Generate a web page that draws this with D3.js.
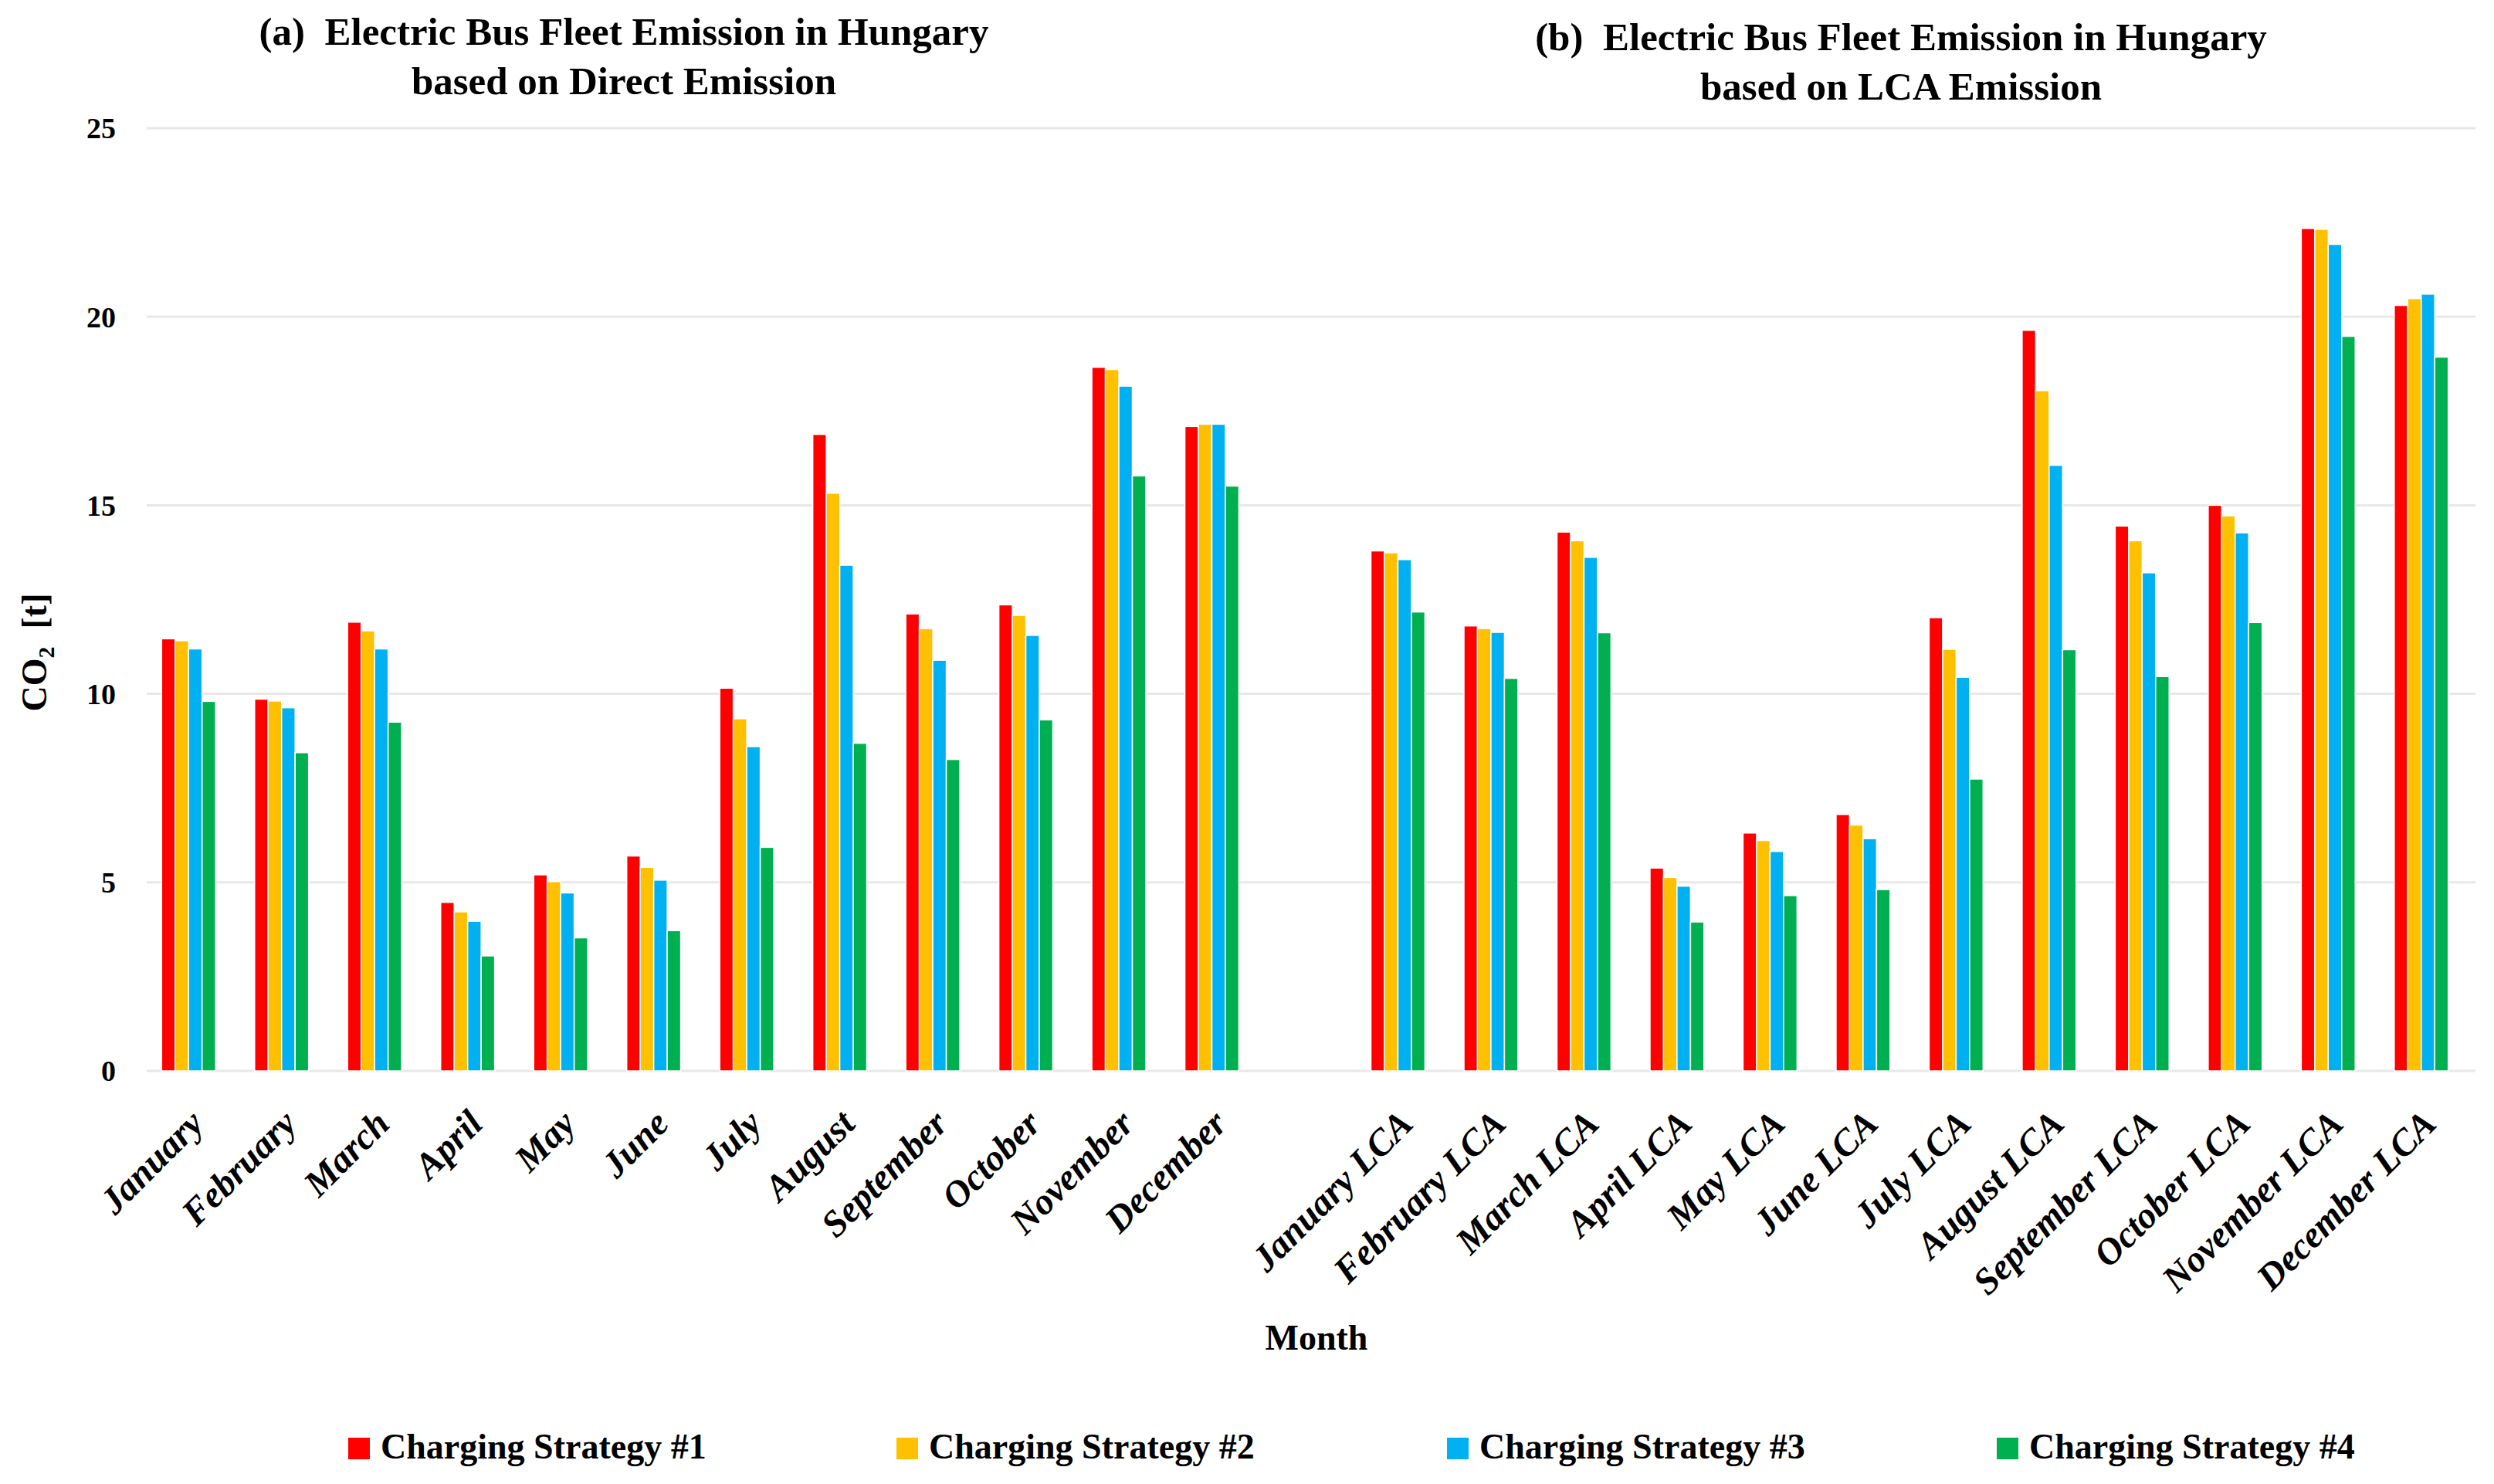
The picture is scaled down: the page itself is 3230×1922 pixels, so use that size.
<html>
<head>
<meta charset="utf-8">
<script src="https://d3js.org/d3.v7.min.js"></script>
<style>
  body { margin: 0; background: #fff; }
  text { font-family: "Liberation Serif", "DejaVu Serif", serif; fill: #000; }
</style>
</head>
<body>
<svg class="chart" width="3230" height="1922"></svg>
<script>

const months = ["January", "February", "March", "April", "May", "June", "July", "August", "September", "October", "November", "December"];
const lcaMonths = months.map(m => m + " LCA");
const series = ["Charging Strategy #1", "Charging Strategy #2", "Charging Strategy #3", "Charging Strategy #4"];
const colors = ["#FF0000", "#FFC000", "#00B0F0", "#00B050"];
const yTicks = [0, 5, 10, 15, 20, 25];

// direct emission, t CO2
const direct1 = [11.46, 9.86, 11.90, 4.47, 5.20, 5.70, 10.15, 16.88, 12.12, 12.36, 18.66, 17.09];
const direct2 = [11.41, 9.81, 11.67, 4.22, 5.02, 5.40, 9.34, 15.32, 11.73, 12.08, 18.60, 17.15];
const direct3 = [11.19, 9.63, 11.19, 3.97, 4.72, 5.06, 8.60, 13.41, 10.89, 11.55, 18.16, 17.15];
const direct4 = [9.80, 8.44, 9.25, 3.05, 3.53, 3.72, 5.93, 8.69, 8.26, 9.31, 15.78, 15.51];

// LCA emission, t CO2
const lca1 = [13.79, 11.80, 14.29, 5.38, 6.31, 6.80, 12.02, 19.64, 14.45, 15.00, 22.34, 20.30];
const lca2 = [13.74, 11.73, 14.06, 5.13, 6.11, 6.52, 11.18, 18.04, 14.06, 14.72, 22.32, 20.48];
const lca3 = [13.56, 11.63, 13.62, 4.90, 5.82, 6.16, 10.44, 16.06, 13.21, 14.27, 21.92, 20.60];
const lca4 = [12.17, 10.41, 11.62, 3.95, 4.65, 4.81, 7.74, 11.17, 10.46, 11.89, 19.48, 18.93];

// one blank category between the two halves, like the spreadsheet
const categories = [...months, " ", ...lcaMonths];

const rows = [];
months.forEach((m, i) => rows.push({cat: m, vals: [direct1[i], direct2[i], direct3[i], direct4[i]]}));
lcaMonths.forEach((m, i) => rows.push({cat: m, vals: [lca1[i], lca2[i], lca3[i], lca4[i]]}));

const svg = d3.select(".chart");

const x0 = d3.scaleBand().domain(categories).range([184, 3196]);
const bw = x0.bandwidth();
const gw = bw * 0.58;
const x1 = d3.scaleBand().domain(d3.range(4)).range([(bw - gw) / 2, (bw + gw) / 2]);
const y = d3.scaleLinear().domain([0, 25]).range([1387, 166]);

// gridlines
svg.append("g")
  .selectAll("line")
  .data(yTicks)
  .join("line")
    .attr("x1", 190)
    .attr("x2", 3206)
    .attr("y1", d => y(d))
    .attr("y2", d => y(d))
    .attr("stroke", "#e8e8e8")
    .attr("stroke-width", 3);

// y tick labels
svg.append("g")
  .selectAll("text")
  .data(yTicks)
  .join("text")
    .attr("x", 150)
    .attr("y", d => y(d))
    .attr("dy", "0.35em")
    .attr("text-anchor", "end")
    .style("font-size", "38px")
    .style("font-weight", "bold")
    .text(d => d);

// bars
const groups = svg.append("g")
  .selectAll("g")
  .data(rows)
  .join("g")
    .attr("transform", d => `translate(${x0(d.cat)},0)`);

groups.selectAll("rect")
  .data(d => d.vals)
  .join("rect")
    .attr("x", (d, i) => x1(i))
    .attr("width", x1.bandwidth())
    .attr("y", d => y(d))
    .attr("height", d => y(0) - y(d))
    .attr("fill", (d, i) => colors[i])
    .attr("stroke", "#fff")
    .attr("stroke-width", 1.5);

// rotated month labels
svg.append("g")
  .selectAll("text")
  .data(categories.filter(c => c.trim() !== ""))
  .join("text")
    .attr("transform", d => `translate(${x0(d) + bw / 2 + 22},1458) rotate(-45)`)
    .attr("text-anchor", "end")
    .style("font-size", "48px")
    .style("font-weight", "bold")
    .style("font-style", "italic")
    .text(d => d);

// titles
const titles = [
  {x: 808, y: 58, lines: ["(a)  Electric Bus Fleet Emission in Hungary", "based on Direct Emission"]},
  {x: 2462, y: 65, lines: ["(b)  Electric Bus Fleet Emission in Hungary", "based on LCA Emission"]}
];
titles.forEach(t => {
  const tx = svg.append("text")
    .attr("x", t.x)
    .attr("y", t.y)
    .attr("text-anchor", "middle")
    .style("font-size", "51px")
    .style("font-weight", "bold")
    .style("white-space", "pre");
  t.lines.forEach((l, i) => {
    tx.append("tspan").attr("x", t.x).attr("dy", i === 0 ? 0 : 64).text(l);
  });
});

// y axis title
const yt = svg.append("text")
  .attr("transform", "translate(60,845) rotate(-90)")
  .attr("text-anchor", "middle")
  .style("font-size", "46px")
  .style("font-weight", "bold")
  .style("white-space", "pre");
yt.append("tspan").text("CO");
yt.append("tspan").attr("dy", 10).style("font-size", "30px").text("2");
yt.append("tspan").attr("dy", -10).text("  [t]");

// x axis title
svg.append("text")
  .attr("x", 1705)
  .attr("y", 1748)
  .attr("text-anchor", "middle")
  .style("font-size", "46px")
  .style("font-weight", "bold")
  .text("Month");

// legend
const legendX = [451, 1161, 1874, 2586];
const legend = svg.append("g")
  .selectAll("g")
  .data(series)
  .join("g")
    .attr("transform", (d, i) => `translate(${legendX[i]},1862)`);
legend.append("rect")
  .attr("width", 28)
  .attr("height", 28)
  .attr("fill", (d, i) => colors[i]);
legend.append("text")
  .attr("x", 42)
  .attr("y", 27)
  .style("font-size", "46px")
  .style("font-weight", "bold")
  .text(d => d);

</script>
</body>
</html>
